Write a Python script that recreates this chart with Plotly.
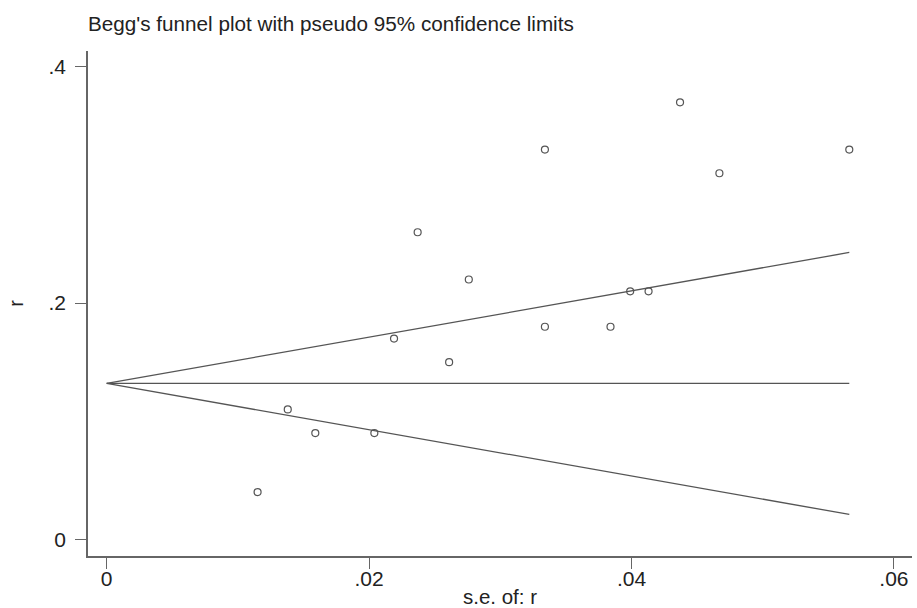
import plotly.graph_objects as go

# Study data: standard error and effect (r)
se_values = [0.0115, 0.0138, 0.0159, 0.0204, 0.0219, 0.0237, 0.0261, 0.0276,
             0.0334, 0.0334, 0.0384, 0.0399, 0.0413, 0.0437, 0.0467, 0.0566]
r_values = [0.04, 0.11, 0.09, 0.09, 0.17, 0.26, 0.15, 0.22,
            0.33, 0.18, 0.18, 0.21, 0.21, 0.37, 0.31, 0.33]

# Funnel (pseudo 95% confidence limits) endpoints
funnel_se = [0.0, 0.0566]
pooled_r = [0.132, 0.132]
upper_limit = [0.132, 0.2429]
lower_limit = [0.132, 0.0211]

x_ticks = [0, 0.02, 0.04, 0.06]
x_ticklabels = ["0", ".02", ".04", ".06"]
y_ticks = [0, 0.2, 0.4]
y_ticklabels = ["0", ".2", ".4"]

line_color = "#555555"
fig = go.Figure()
for yy in (upper_limit, pooled_r, lower_limit):
    fig.add_trace(go.Scatter(x=funnel_se, y=yy, mode="lines",
                             line=dict(color=line_color, width=1.3),
                             showlegend=False, hoverinfo="skip"))
fig.add_trace(go.Scatter(x=se_values, y=r_values, mode="markers",
                         marker=dict(symbol="circle-open", size=7,
                                     color=line_color, line=dict(width=1.2)),
                         showlegend=False))

font = "Liberation Sans, Arial, sans-serif"
fig.update_layout(
    width=917, height=608,
    plot_bgcolor="white", paper_bgcolor="white",
    margin=dict(l=88, r=5, t=51, b=52, autoexpand=False),
    font=dict(family=font, color="#222222"),
    title=dict(text="Begg's funnel plot with pseudo 95% confidence limits",
               x=88 / 917, xanchor="left", xref="container",
               y=1 - 24 / 608, yanchor="middle", yref="container",
               font=dict(size=20.7, family=font, color="#222222")),
    xaxis=dict(range=[-0.001426, 0.06138], tickvals=x_ticks, ticktext=x_ticklabels,
               showgrid=False, zeroline=False, showline=True, linecolor="#666666",
               linewidth=1.5, ticks="outside", ticklen=11, tickcolor="#666666",
               tickwidth=1.3, tickfont=dict(size=21), ticklabelstandoff=-8,
               title=dict(text="s.e. of: r", font=dict(size=20.5), standoff=6)),
    yaxis=dict(range=[-0.01413, 0.4135], tickvals=y_ticks, ticktext=y_ticklabels,
               showgrid=False, zeroline=False, showline=True, linecolor="#666666",
               linewidth=1.5, ticks="outside", ticklen=11, tickcolor="#666666",
               tickwidth=1.3, tickfont=dict(size=21), ticklabelstandoff=5,
               title=dict(text="r", font=dict(size=20), standoff=20)),
)

fig.write_html("out.html", config={"displayModeBar": False},
               post_script="document.body.style.margin='0';document.body.style.overflow='hidden';")
